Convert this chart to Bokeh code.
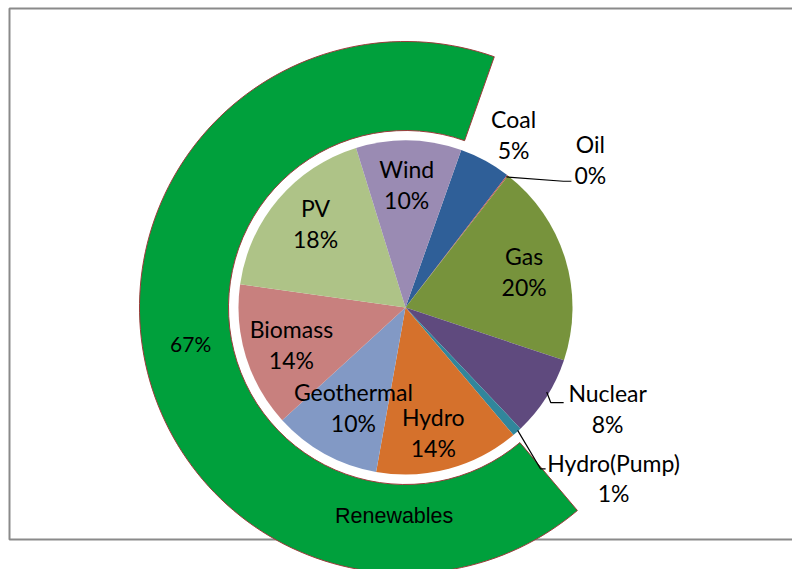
import math
from bokeh.plotting import figure
from bokeh.models import Range1d, ColumnDataSource
from bokeh.core.properties import value
from bokeh.embed import file_html
from bokeh.resources import INLINE

# ---------------- data ----------------
sources = ["Coal", "Oil", "Gas", "Nuclear", "Hydro(Pump)", "Hydro", "Geothermal", "Biomass", "PV", "Wind"]
shares = [5.0, 0.1, 19.6, 7.8, 0.9, 14.0, 10.4, 14.0, 18.0, 10.2]
renewable = [False, False, False, False, False, True, True, True, True, True]
ring_label = "Renewables"

# ---------------- style ----------------
colors = ["#2F5F98", "#C0504D", "#77933C", "#5F4A7E", "#31869B", "#D5712C", "#8299C5", "#C8807E", "#AEC387", "#9A8BB3"]
ring_color = "#00A03C"
ring_line = "#9B3B3B"
label_r = [204, 237, 124, 226, 269, 128, 113, 120, 123, 123]
label_dang = [-3.5, -13.6, 0, 5.9, 8.8, -2.5, 1.4, 0.8, -2.6, 0.6]
leader = [False, True, False, True, True, False, False, False, False, False]
FONT = value("Lato")

W, H = 792, 569
cx, cy = 405.0, -307.0
R = 167.0
ring_in, ring_out = 177.0, 266.0
theta0 = math.radians(70.5)  # first slice angle

p = figure(width=W, height=H, output_backend="svg", toolbar_location=None,
           x_range=Range1d(0, W), y_range=Range1d(-H, 0),
           min_border=0, outline_line_color=None, background_fill_color="white",
           border_fill_color="white")
p.axis.visible = False
p.grid.visible = False

# chart frame
p.quad(left=[9], right=[900], top=[-8], bottom=[-539], fill_color=None,
       line_color="#8A8A8A", line_width=2)

total = sum(shares)
# ---------- pie ----------
starts, ends, mids = [], [], []
cum = 0.0
for v in shares:
    a_top = theta0 - 2 * math.pi * cum / total
    cum += v
    a_bot = theta0 - 2 * math.pi * cum / total
    starts.append(a_bot)
    ends.append(a_top)
    mids.append((a_top + a_bot) / 2)

src = ColumnDataSource(dict(start=starts, end=ends, color=colors))
p.wedge(x=cx, y=cy, radius=R, start_angle="start", end_angle="end", fill_color="color",
        line_color=None, source=src, direction="anticlock")

# ---------- outer ring (renewables) ----------
ren_total = sum(v for v, r in zip(shares, renewable) if r)
non_total = total - ren_total
ring_start = theta0 - 2 * math.pi  # end of cumulative sequence
ring_end = theta0 - 2 * math.pi * non_total / total
p.annular_wedge(x=cx, y=cy, inner_radius=ring_in, outer_radius=ring_out,
                start_angle=ring_start, end_angle=ring_end, direction="anticlock",
                fill_color=ring_color, line_color=ring_line, line_width=1)

# ring labels
ring_mid = (ring_start + ring_end) / 2
rm = (ring_in + ring_out) / 2
p.text(x=[cx + rm * math.cos(ring_mid) + 3], y=[cy + rm * math.sin(ring_mid) + 4],
       text=[f"{100 * ren_total / total:.0f}%"], text_font=FONT, text_font_size="21px",
       text_align="center", text_baseline="middle", text_color="#000000")
ang_rl = math.radians(-89)
p.text(x=[cx + 209 * math.cos(ang_rl) - 15], y=[cy + 209 * math.sin(ang_rl)],
       text=[ring_label], text_font=value("Liberation Sans"), text_font_size="21.5px",
       text_align="center", text_baseline="middle", text_color="#000000")

# ---------- slice labels ----------
lx, ly, txt = [], [], []
for name, v, m, r, da in zip(sources, shares, mids, label_r, label_dang):
    a = m + math.radians(da)
    lx.append(cx + r * math.cos(a))
    ly.append(cy + r * math.sin(a))
    txt.append(f"{name}\n{100 * v / total:.0f}%")
p.text(x=lx, y=ly, text=txt, text_font=FONT, text_font_size="23px",
       text_align="center", text_baseline="middle", text_line_height=1.1,
       text_color="#000000")

# ---------- leader lines ----------
for name, m, x, y, has in zip(sources, mids, lx, ly, leader):
    if not has:
        continue
    ex, ey = cx + (R - 2) * math.cos(m), cy + (R - 2) * math.sin(m)
    if name == "Oil":
        xs = [ex, x - 27, x - 19]
        ys = [ey, y - 22, y - 22]
    elif name == "Nuclear":
        xs = [ex + 2, ex + 6, x - 44]
        ys = [ey + 4, y + 6, y + 6]
    else:
        xs = [ex + 2, x - 73, x - 68]
        ys = [ey, y + 9, y + 9]
    p.line(x=xs, y=ys, line_color="#000000", line_width=1.2)

open("out.html", "w").write(file_html(p, INLINE))
